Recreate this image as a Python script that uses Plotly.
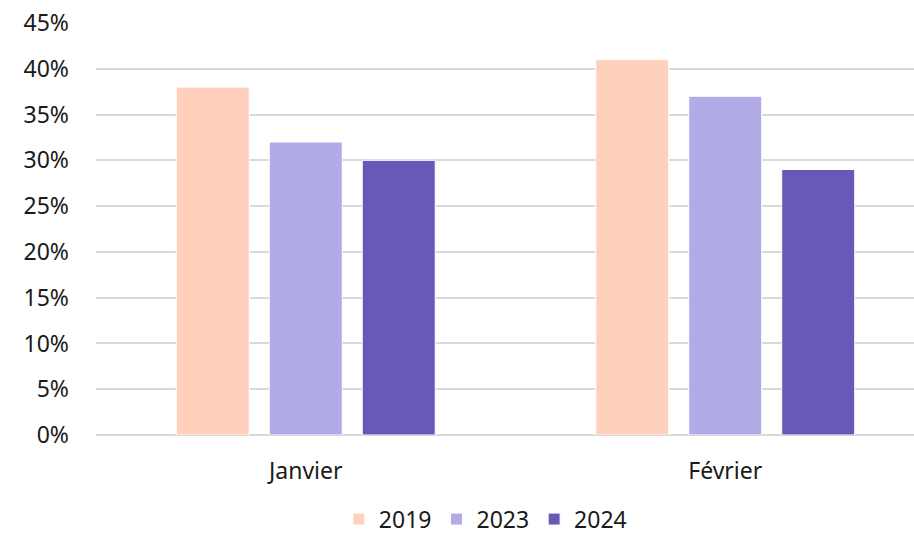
import plotly.graph_objects as go

categories = ["Janvier", "Février"]
series_names = ["2019", "2023", "2024"]
values_2019 = [0.38, 0.41]
values_2023 = [0.32, 0.37]
values_2024 = [0.30, 0.29]
tick_vals = [0, 0.05, 0.10, 0.15, 0.20, 0.25, 0.30, 0.35, 0.40, 0.45]
tick_text = ["0%", "5%", "10%", "15%", "20%", "25%", "30%", "35%", "40%", "45%"]

colors = ["#FFD0BC", "#B1ACE7", "#6659B7"]
font = "Noto Sans, Open Sans, sans-serif"

fig = go.Figure()
for name, vals, col in zip(series_names, [values_2019, values_2023, values_2024], colors):
    fig.add_trace(go.Bar(
        x=categories, y=vals, name=name,
        marker=dict(color=col, line=dict(color="white", width=1)),
        hoverinfo="skip",
    ))

fig.update_layout(
    width=914, height=537,
    margin=dict(l=96, r=0, t=23, b=102, autoexpand=False),
    paper_bgcolor="white", plot_bgcolor="white",
    barmode="group", bargap=0.335, bargroupgap=0.215,
    font=dict(family=font, size=23, color="#1a1a1a"),
    showlegend=True,
    legend=dict(orientation="h", x=0.476, xanchor="center", y=-0.152, yanchor="top",
                font=dict(size=23), traceorder="normal"),
    xaxis=dict(range=[-0.5, 1.45], showgrid=False, showline=False, ticks="",
               tickfont=dict(size=23), ticklabelstandoff=20, automargin=False),
    yaxis=dict(range=[0, 0.45], tickvals=tick_vals, ticktext=tick_text,
               showgrid=True, gridcolor="#D9D9D9", gridwidth=2,
               zeroline=True, zerolinecolor="#D9D9D9", zerolinewidth=2,
               showline=False, ticks="", ticklabelstandoff=26, tickfont=dict(size=23),
               automargin=False),
)

fig.write_html("out.html", config={"responsive": False, "displayModeBar": False},
               post_script="document.body.style.margin='0';document.body.style.overflow='hidden';")
